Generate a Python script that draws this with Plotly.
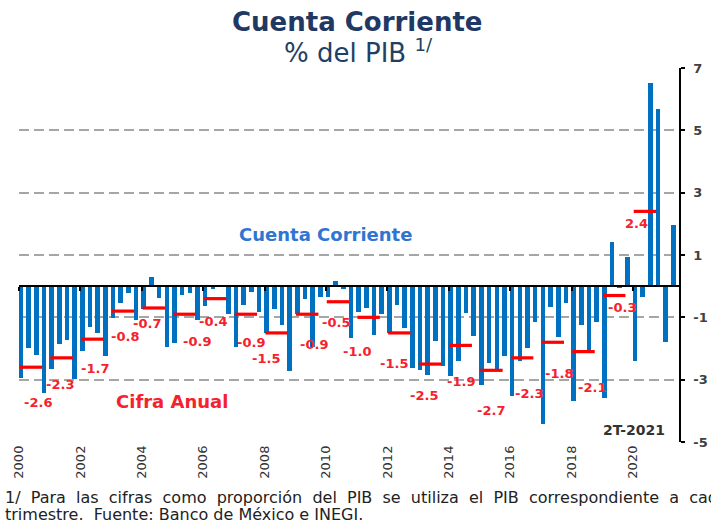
import plotly.graph_objects as go

# ---------------- Datos ----------------
anios_trim = [a for a in range(2000, 2022) for _ in range(4)][:86]
trim_num = [q for _ in range(2000, 2022) for q in range(1, 5)][:86]

cuenta_corriente = [
    -2.94, -1.99, -2.20, -3.42,   # 2000
    -2.65, -1.85, -1.74, -2.98,   # 2001
    -2.07, -1.30, -1.51, -2.23,   # 2002
    -1.03, -0.55, -0.23, -1.08,   # 2003
    -0.74, 0.30, -0.39, -1.96,    # 2004
    -1.83, -0.29, -0.23, -1.08,   # 2005
    -0.64, -0.10, 0.05, -0.90,    # 2006
    -1.96, -0.62, -0.20, -0.82,   # 2007
    -1.51, -0.74, -1.24, -2.73,   # 2008
    -0.90, -0.40, -1.96, -0.35,   # 2009
    -0.35, 0.15, -0.10, -1.67,    # 2010
    -0.82, -0.71, -1.58, -0.89,   # 2011
    -1.49, -0.59, -1.35, -2.63,   # 2012
    -2.68, -2.84, -1.75, -2.55,   # 2013
    -2.89, -2.41, -0.87, -1.59,   # 2014
    -3.16, -2.47, -2.66, -2.25,   # 2015
    -3.53, -2.41, -1.97, -1.14,   # 2016
    -4.43, -0.66, -1.64, -0.55,   # 2017
    -3.69, -1.24, -2.10, -1.14,   # 2018
    -3.58, 1.41, -0.07, 0.94,     # 2019
    -2.41, -0.34, 6.52, 5.67,     # 2020
    -1.78, 1.95,                  # 2021
]

anios = list(range(2000, 2021))
cifra_anual = [-2.6, -2.3, -1.7, -0.8, -0.7, -0.9, -0.4, -0.9, -1.5, -0.9,
               -0.5, -1.0, -1.5, -2.5, -1.9, -2.7, -2.3, -1.8, -2.1, -0.3, 2.4]

anios_eje = list(range(2000, 2021, 2))
ticks_y = [-5, -3, -1, 1, 3, 5, 7]

# label offsets (position only, relative to each annual point)
label_dx = [0.62, 0.34, 0.48, 0.45, 0.17, 0.80, 0.32, 0.56, 0.05, 0.61,
            0.33, 0.01, 0.22, 0.19, 0.40, 0.38, 0.61, 0.60, 0.68, 0.63, 0.12]
label_dy = [-1.14, -0.86, -0.95, -0.83, -0.51, -0.89, -0.72, -0.92, -0.83, -0.98,
            -0.65, -1.10, -0.97, -1.01, -1.16, -1.29, -1.13, -1.01, -1.14, -0.38, -0.38]

# ---------------- Figura ----------------
x_bar = [a + (q - 1) * 0.25 + 0.065 for a, q in zip(anios_trim, trim_num)]
x_anual = [a + 0.39 for a in anios]

fig = go.Figure()
fig.add_trace(go.Bar(
    x=x_bar, y=cuenta_corriente, width=0.15,
    marker=dict(color="#0070C0", line=dict(width=0)),
    showlegend=False, hoverinfo="skip",
))
fig.add_trace(go.Scatter(
    x=x_anual, y=cifra_anual, mode="markers", xaxis="x2", yaxis="y",
    marker=dict(symbol="line-ew", size=16, line=dict(color="#FF0000", width=3.2)),
    showlegend=False, hoverinfo="skip",
))

ann = []
for a, v, dx, dy in zip(anios, cifra_anual, label_dx, label_dy):
    ann.append(dict(x=a + dx, y=v + dy, xref="x", yref="y", text=f"{v:.1f}",
                    showarrow=False, xanchor="center", yanchor="middle",
                    font=dict(family="DejaVu Sans", size=13, color="#F5222D", weight="bold")))

linea1 = "  ".join("1/ Para las cifras como proporción del PIB se utiliza el PIB correspondiente a cada".split(" "))

ann += [
    dict(x=2009.97, y=1.66, xref="x", yref="y", text="Cuenta Corriente", showarrow=False,
         xanchor="center", yanchor="middle",
         font=dict(family="DejaVu Sans", size=18, color="#2F76D2", weight="bold")),
    dict(x=2004.97, y=-3.71, xref="x", yref="y", text="Cifra Anual", showarrow=False,
         xanchor="center", yanchor="middle",
         font=dict(family="DejaVu Sans", size=18, color="#F5222D", weight="bold")),
    dict(x=2020.03, y=-4.6, xref="x", yref="y", text="2T-2021", showarrow=False,
         xanchor="center", yanchor="middle",
         font=dict(family="DejaVu Sans", size=14, color="#333333", weight="bold")),
    dict(x=0.512, y=1.124, xref="paper", yref="paper", text="Cuenta Corriente",
         showarrow=False, xanchor="center", yanchor="middle",
         font=dict(family="DejaVu Sans", size=26, color="#1F3864", weight="bold")),
    dict(x=0.515, y=1.046, xref="paper", yref="paper",
         text="% del PIB <sup>1/</sup>", showarrow=False, xanchor="center", yanchor="middle",
         font=dict(family="DejaVu Sans", size=26, color="#223F66")),
    dict(x=-0.024, y=-0.148, xref="paper", yref="paper", xanchor="left", yanchor="middle",
         text=linea1, showarrow=False,
         font=dict(family="DejaVu Sans", size=16, color="#222222")),
    dict(x=-0.024, y=-0.194, xref="paper", yref="paper", xanchor="left", yanchor="middle",
         text="trimestre.  Fuente: Banco de México e INEGI.",
         showarrow=False, font=dict(family="DejaVu Sans", size=16, color="#222222")),
]

fig.update_layout(
    width=711, height=520,
    margin=dict(l=19, r=32, t=68, b=78, autoexpand=False),
    plot_bgcolor="white", paper_bgcolor="white",
    bargap=0,
    annotations=ann,
    xaxis=dict(range=[2000, 2021.5], tickmode="array", tickvals=anios_eje,
               ticktext=[str(a) for a in anios_eje], tickangle=-90,
               ticks="", showgrid=False, zeroline=False, showline=False, automargin=False,
               tickfont=dict(family="DejaVu Sans", size=13, color="#333333")),
    xaxis2=dict(range=[2000, 2021.5], overlaying="x", anchor="free", position=5 / 12,
                side="bottom", tickmode="array", tickvals=anios_eje,
                ticks="outside", ticklen=4, tickwidth=1.5, tickcolor="black",
                showticklabels=False, showgrid=False, zeroline=False, automargin=False,
                showline=True, linecolor="black", linewidth=1.5),
    yaxis=dict(range=[-5, 7], side="right", tickmode="array", tickvals=ticks_y,
               ticktext=[str(t) for t in ticks_y], automargin=False,
               showgrid=True, gridcolor="#A6A6A6", gridwidth=1.5, griddash="10px,5px",
               zeroline=False, showline=True, linecolor="black", linewidth=1.5,
               ticks="outside", ticklen=4, tickwidth=1.5, tickcolor="black",
               ticklabelstandoff=6,
               tickfont=dict(family="DejaVu Sans", size=13, color="#404040", weight="bold")),
)

fig.write_html("out.html", config={"displayModeBar": False},
               post_script="document.body.style.margin='0px';")
